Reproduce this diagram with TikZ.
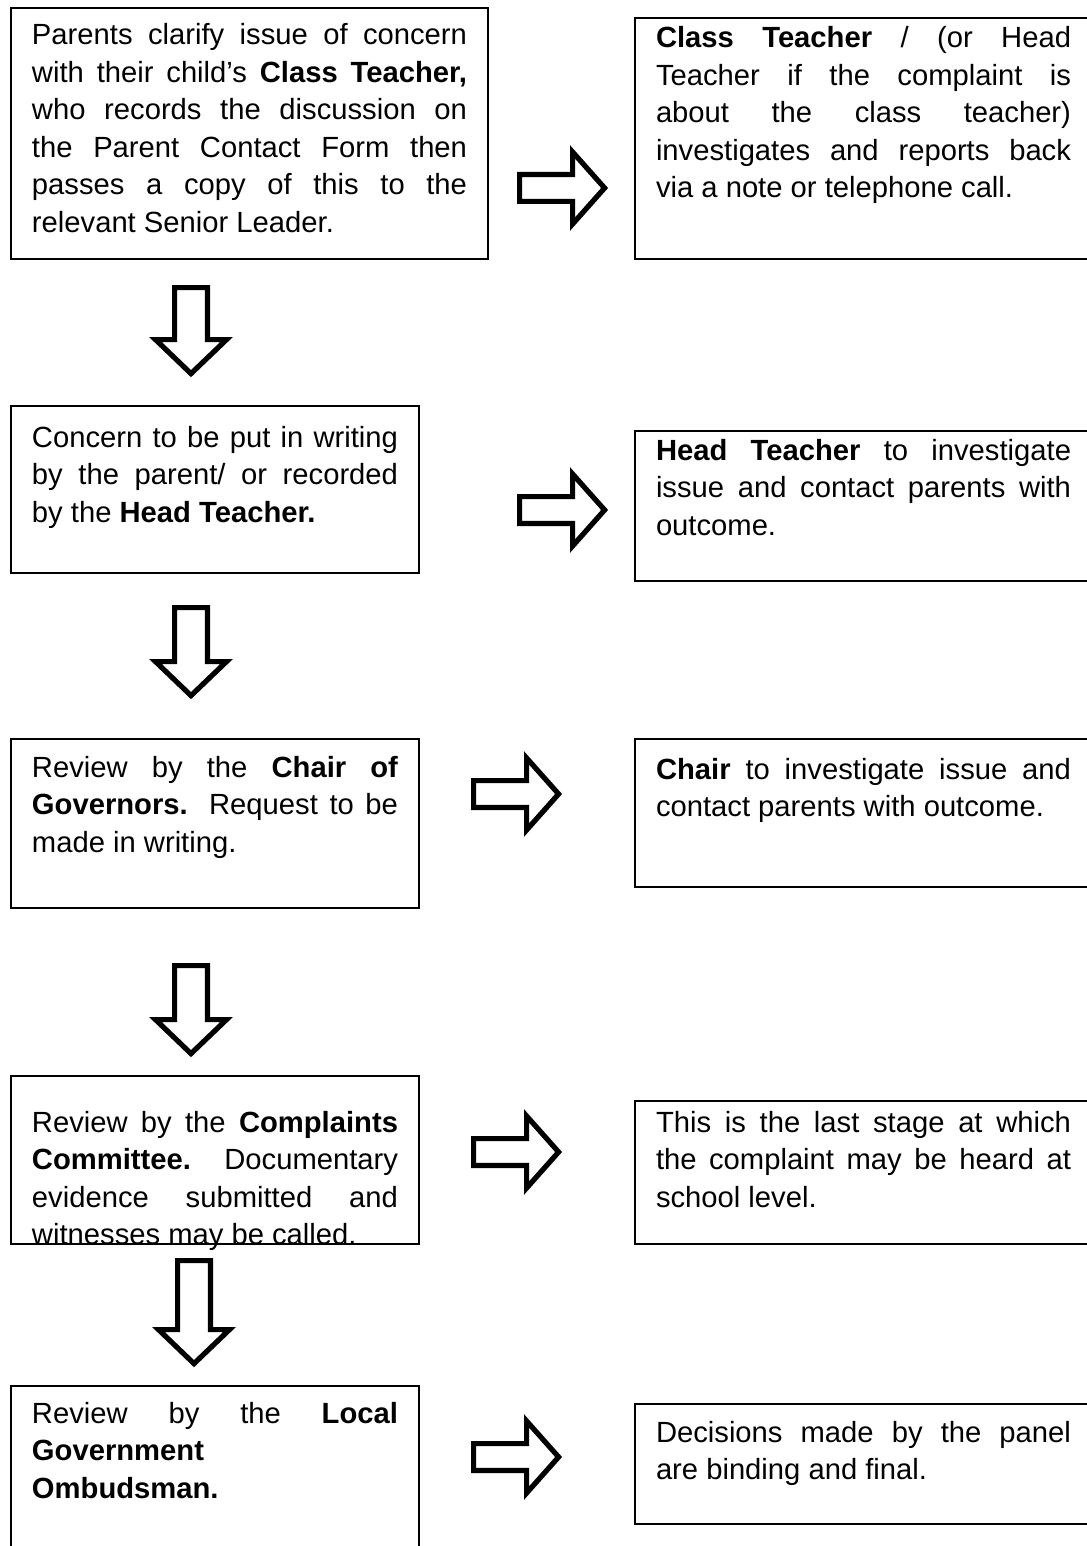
\documentclass[tikz,border=0pt]{standalone}
\usepackage{fontspec}
\setmainfont{Liberation Sans}
\usetikzlibrary{positioning}
\tolerance=10000
\hbadness=10000

\tikzset{
  stage/.style={draw,line width=1pt,anchor=north west,inner xsep=10.5pt,inner ysep=0pt,
    align=justify,font=\fontsize{14.6}{18.75}\selectfont},
  boxdim/.style 2 args={text height=#1pt,text depth=#2pt},
  wide/.style={text width=217.5pt},
  narrow/.style={text width=183pt},
  side/.style={text width=207.5pt},
  blockarrow/.style={line width=2.6pt,fill=white},
  pics/rightblock/.style={code={
    \draw[blockarrow] (0,-13.4) -- (53,-13.4) -- (53,-36) -- (85,0) -- (53,36)
      -- (53,13.4) -- (0,13.4) -- cycle;
  }},
  pics/downblock/.style={code={
    \draw[blockarrow] (-16.4,0) -- (-16.4,#1) -- (-35.5,#1) -- (0,#1+34) -- (35.5,#1)
      -- (16.4,#1) -- (16.4,0) -- cycle;
  }}
}

\begin{document}
\begin{tikzpicture}[x=0.5pt,y=-0.5pt]
\useasboundingbox (0,0) rectangle (1086,1546);

% left column
\node[stage,wide,boxdim={18.5}{107}] (l1) at (10,7) {Parents clarify issue of concern\linebreak
  with their child’s \textbf{Class Teacher,}\linebreak who records the discussion on\linebreak
  the Parent Contact Form then\linebreak passes a copy of this to the\linebreak relevant Senior Leader.};
\node[stage,narrow,boxdim={20.5}{63}] (l2) at (10,405) {Concern to be put in writing\linebreak
  by the parent/ or recorded\linebreak by the \textbf{Head Teacher.}};
\node[stage,narrow,boxdim={19}{65.5}] (l3) at (10,738) {Review by the \textbf{Chair of}\linebreak
  \textbf{Governors.} Request to be\linebreak made in writing.};
\node[stage,narrow,boxdim={28}{56}] (l4) at (10,1075) {Review by the \textbf{Complaints}\linebreak
  \textbf{Committee.} Documentary\linebreak evidence submitted and\linebreak witnesses may be called.};
\node[stage,narrow,boxdim={18.5}{74}] (l5) at (10,1385) {Review by the \textbf{Local}\linebreak
  \textbf{Government}\newline \textbf{Ombudsman.}};

% right column
\node[stage,side,boxdim={15}{105.5}] (r1) at (634,17) {\textbf{Class Teacher} / (or Head\linebreak
  Teacher if the complaint is\linebreak about the class teacher)\linebreak
  investigates and reports back\linebreak via a note or telephone call.};
\node[stage,side,boxdim={14.5}{60.5}] (r2) at (634,430) {\textbf{Head Teacher} to investigate\linebreak
  issue and contact parents with\linebreak outcome.};
\node[stage,side,boxdim={20}{54}] (r3) at (634,738) {\textbf{Chair} to investigate issue and\linebreak
  contact parents with outcome.};
\node[stage,side,boxdim={15.5}{56}] (r4) at (634,1100) {This is the last stage at which\linebreak
  the complaint may be heard at\linebreak school level.};
\node[stage,side,boxdim={19}{41}] (r5) at (634,1403) {Decisions made by the panel\linebreak
  are binding and final.};

% block arrows
\pic at (519.6,188) {rightblock};
\pic at (519.6,510) {rightblock};
\pic at (473.6,794) {rightblock};
\pic at (473.6,1152) {rightblock};
\pic at (473.6,1457) {rightblock};
\pic at (191,287.6) {downblock=52};
\pic at (191,607.6) {downblock=54};
\pic at (191,965.6) {downblock=54};
\pic at (194,1260.6) {downblock=69};
\end{tikzpicture}
\end{document}
